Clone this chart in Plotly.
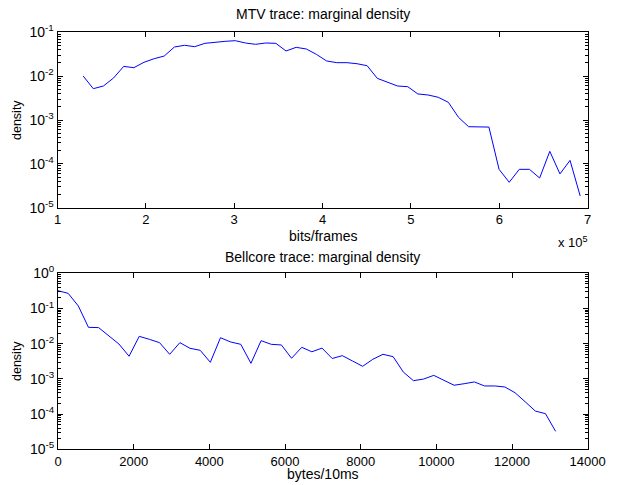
import plotly.graph_objects as go

# ---- MTV trace (top) ----
mtv_bits = [129000, 140500, 152000, 163400, 174900, 186400, 197900, 209400, 220800, 232300,
            243800, 255300, 266800, 278200, 289700, 301200, 312700, 324200, 335600, 347100,
            358600, 370100, 381600, 393000, 404500, 416000, 427500, 439000, 450400, 461900,
            473400, 484900, 496400, 507800, 519300, 530800, 542300, 553800, 565200, 576700,
            588200, 599700, 611200, 622600, 634100, 645600, 657100, 668600, 680000, 691500]
mtv_density = [0.0101, 0.00518, 0.00596, 0.00907, 0.0167, 0.0156, 0.0207, 0.025, 0.0288, 0.0462,
               0.0505, 0.047, 0.056, 0.060, 0.0622, 0.0644, 0.057, 0.0532, 0.057, 0.056,
               0.0375, 0.0454, 0.0416, 0.0314, 0.0222, 0.0203, 0.0203, 0.0192, 0.0173, 0.0089,
               0.00722, 0.00596, 0.00575, 0.00392, 0.00372, 0.0033, 0.00253, 0.00115, 0.000703, 0.0007,
               0.00069, 7.5e-5, 3.8e-5, 7.5e-5, 7.5e-5, 4.75e-5, 1.93e-4, 5.9e-5, 1.2e-4, 1.85e-5]

# ---- Bellcore trace (bottom) ----
bell_bytes = [0, 268, 537, 805, 1074, 1342, 1610, 1879, 2147, 2416,
              2684, 2952, 3221, 3489, 3758, 4026, 4294, 4563, 4831, 5100,
              5368, 5636, 5905, 6173, 6442, 6710, 6978, 7247, 7515, 7784,
              8052, 8320, 8589, 8857, 9126, 9394, 9662, 9931, 10199, 10468,
              10736, 11004, 11273, 11541, 11810, 12078, 12346, 12615, 12883, 13152]
bell_density = [0.32, 0.27, 0.118, 0.0292, 0.0286, 0.0168, 0.0098, 0.0044, 0.0162, 0.0133,
                0.0107, 0.005, 0.0107, 0.0074, 0.0065, 0.00296, 0.0148, 0.0112, 0.0096, 0.00277,
                0.0122, 0.0096, 0.0092, 0.00385, 0.0079, 0.0059, 0.0075, 0.0038, 0.00457, 0.00323,
                0.00228, 0.0036, 0.005, 0.00428, 0.00157, 0.00089, 0.00099, 0.00126, 0.00091, 0.00066,
                0.00073, 0.00082, 0.00063, 0.00063, 0.00059, 0.000406, 0.000225, 0.000122, 0.000103, 3.24e-5]

top_xticks = [100000, 200000, 300000, 400000, 500000, 600000, 700000]
top_xtick_labels = ["1", "2", "3", "4", "5", "6", "7"]
top_yticks = [1e-5, 1e-4, 1e-3, 1e-2, 1e-1]
top_ytick_labels = ["10<sup>-5</sup>", "10<sup>-4</sup>", "10<sup>-3</sup>", "10<sup>-2</sup>", "10<sup>-1</sup>"]
bot_xticks = [0, 2000, 4000, 6000, 8000, 10000, 12000, 14000]
bot_xtick_labels = ["0", "2000", "4000", "6000", "8000", "10000", "12000", "14000"]
bot_yticks = [1e-5, 1e-4, 1e-3, 1e-2, 1e-1, 1]
bot_ytick_labels = ["10<sup>-5</sup>", "10<sup>-4</sup>", "10<sup>-3</sup>", "10<sup>-2</sup>", "10<sup>-1</sup>", "10<sup>0</sup>"]

W, H = 619, 485
FONT = "Liberation Sans, Arial, Helvetica, sans-serif"
FS_TITLE = 14
FS_TICK = 13
FS_YTICK = 14
FS_LABEL = 14

fig = go.Figure()
fig.add_trace(go.Scatter(x=mtv_bits, y=mtv_density, mode="lines",
                         line=dict(color="#0000ff", width=1), xaxis="x", yaxis="y", showlegend=False))
fig.add_trace(go.Scatter(x=bell_bytes, y=bell_density, mode="lines",
                         line=dict(color="#0000ff", width=1), xaxis="x2", yaxis="y2", showlegend=False))

def px_x(p):
    return p / W

def px_y(p):
    return 1 - p / H

common = dict(showgrid=False, zeroline=False, showline=True, linecolor="black", linewidth=1,
              mirror="allticks", ticks="inside", ticklen=5, tickcolor="black", automargin=False)
xfont = dict(tickfont=dict(family=FONT, size=FS_TICK, color="black"))
yfont = dict(tickfont=dict(family=FONT, size=FS_YTICK, color="black"))
minor = dict(ticks="inside", ticklen=3, tickcolor="black", dtick="D1", showgrid=False)

fig.update_layout(
    width=W, height=H,
    margin=dict(l=0, r=0, t=0, b=0, autoexpand=False),
    paper_bgcolor="white", plot_bgcolor="white",
    font=dict(family=FONT, size=FS_TICK, color="black"),
    xaxis=dict(domain=[px_x(57.5), px_x(587.7)], anchor="y", range=[100000, 700000],
               tickmode="array", tickvals=top_xticks, ticktext=top_xtick_labels, **common, **xfont),
    yaxis=dict(domain=[px_y(207.7), px_y(32.3)], anchor="x", type="log", range=[-5, -1],
               tickmode="array", tickvals=top_yticks, ticktext=top_ytick_labels,
               minor=minor, **common, **yfont),
    xaxis2=dict(domain=[px_x(58), px_x(587.7)], anchor="y2", range=[0, 14000],
                tickmode="array", tickvals=bot_xticks, ticktext=bot_xtick_labels, **common, **xfont),
    yaxis2=dict(domain=[px_y(449.3), px_y(273.3)], anchor="x2", type="log", range=[-5, 0],
                tickmode="array", tickvals=bot_yticks, ticktext=bot_ytick_labels,
                minor=minor, **common, **yfont),
)

def ann(text, x, y, size, xanchor="center", yanchor="middle", angle=0):
    fig.add_annotation(text=text, x=px_x(x), y=px_y(y), xref="paper", yref="paper",
                       xanchor=xanchor, yanchor=yanchor, showarrow=False, textangle=angle,
                       font=dict(family=FONT, size=size, color="black"))

ann("MTV trace: marginal density", 322.6, 14, FS_TITLE)
ann("bits/frames", 322.6, 236, FS_LABEL)
ann("x 10<sup>5</sup>", 590, 242, FS_TICK, xanchor="right")
ann("density", 17, 120, 12.5, angle=-90)
ann("Bellcore trace: marginal density", 322.9, 257, FS_TITLE)
ann("bytes/10ms", 322.9, 474, FS_LABEL)
ann("density", 17, 361, 12.5, angle=-90)

fig.write_html("out.html", config={"displayModeBar": False},
               post_script="document.body.style.margin='0';document.body.style.padding='0';")
